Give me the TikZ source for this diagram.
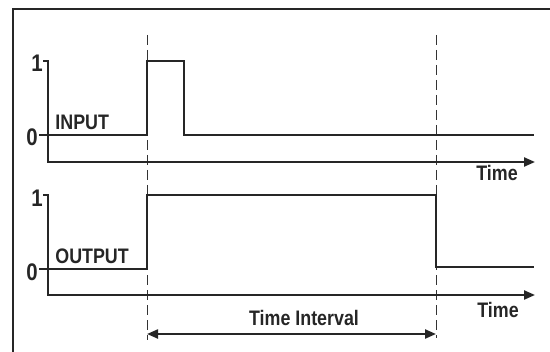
\documentclass[tikz,border=0pt]{standalone}
\usepackage{fontspec}
\setmainfont{Liberation Sans}[FakeStretch=0.85]
\usetikzlibrary{positioning,arrows.meta}

\begin{document}
\begin{tikzpicture}[
  x=0.5pt, y=-0.5pt,
  frame/.style={line width=1pt, draw=black!85},
  axis/.style={line width=1.1pt, draw=black!85, -{Triangle[length=5.5pt,width=4.5pt]}},
  wave/.style={line width=1.1pt, draw=black!85},
  guide/.style={line width=0.5pt, draw=black!80, dash pattern=on 5pt off 2.5pt},
  span/.style={line width=1.1pt, draw=black!85, {Triangle[length=5.5pt,width=4.5pt]}-{Triangle[length=5.5pt,width=4.5pt]}},
  lbl/.style={font=\fontsize{10.5}{12}\selectfont\bfseries, text=black!85, inner sep=0pt},
  digit/.style={font=\fontsize{12}{14}\selectfont\bfseries, text=black!85, inner sep=0pt}
]
\useasboundingbox (0,0) rectangle (550,352);

% frame (top and left edge only)
\coordinate (fl) at (13,352);
\coordinate (fc) at (13,9);
\coordinate (fr) at (550,9);
\draw[frame] (fl) -- (fc) -- (fr);

% time marks
\coordinate (t1top) at (147,35);
\coordinate (t1bot) at (147,340);
\coordinate (t2top) at (436,35);
\coordinate (t2bot) at (436,338);
\draw[guide] (t1top) -- (t1bot);
\draw[guide] (t2top) -- (t2bot);

% input axes
\coordinate (in1) at (43,61);
\coordinate (inO) at (48,162);
\coordinate (inE) at (535,162);
\draw[axis] (in1) -- (48,61) -- (inO) -- (inE);
\draw[wave] (39,135) -- (48,135);
\node[digit, anchor=base east] (inone) at (43,72) {1};
\node[digit, anchor=base east] (inzero) at (38,146) {0};
\node[lbl, anchor=base] (intime) at (497,181) {Time};

% input pulse
\node[lbl, anchor=base west] (inlabel) at (55,130) {INPUT};
\draw[wave] (48,135) -- (147,135) -- (147,61) -- (184,61) -- (184,135) -- (534,135);

% output axes
\coordinate (out1) at (43,195);
\coordinate (outO) at (48,295);
\coordinate (outE) at (535,295);
\draw[axis] (out1) -- (48,195) -- (outO) -- (outE);
\draw[wave] (39,269) -- (48,269);
\node[digit, anchor=base east] (outone) at (43,206) {1};
\node[digit, anchor=base east] (outzero) at (38,280) {0};
\node[lbl, anchor=base] (outtime) at (498,317) {Time};

% output level
\node[lbl, anchor=base west] (outlabel) at (55,263) {OUTPUT};
\draw[wave] (48,269) -- (147,269) -- (147,195) -- (436,195) -- (436,267) -- (534,267);

% interval
\coordinate (ia) at (147,334);
\coordinate (ib) at (436,334);
\draw[span] (ia) -- (ib);
\node[lbl, anchor=base] (ilabel) at (304,325) {Time Interval};
\end{tikzpicture}
\end{document}
